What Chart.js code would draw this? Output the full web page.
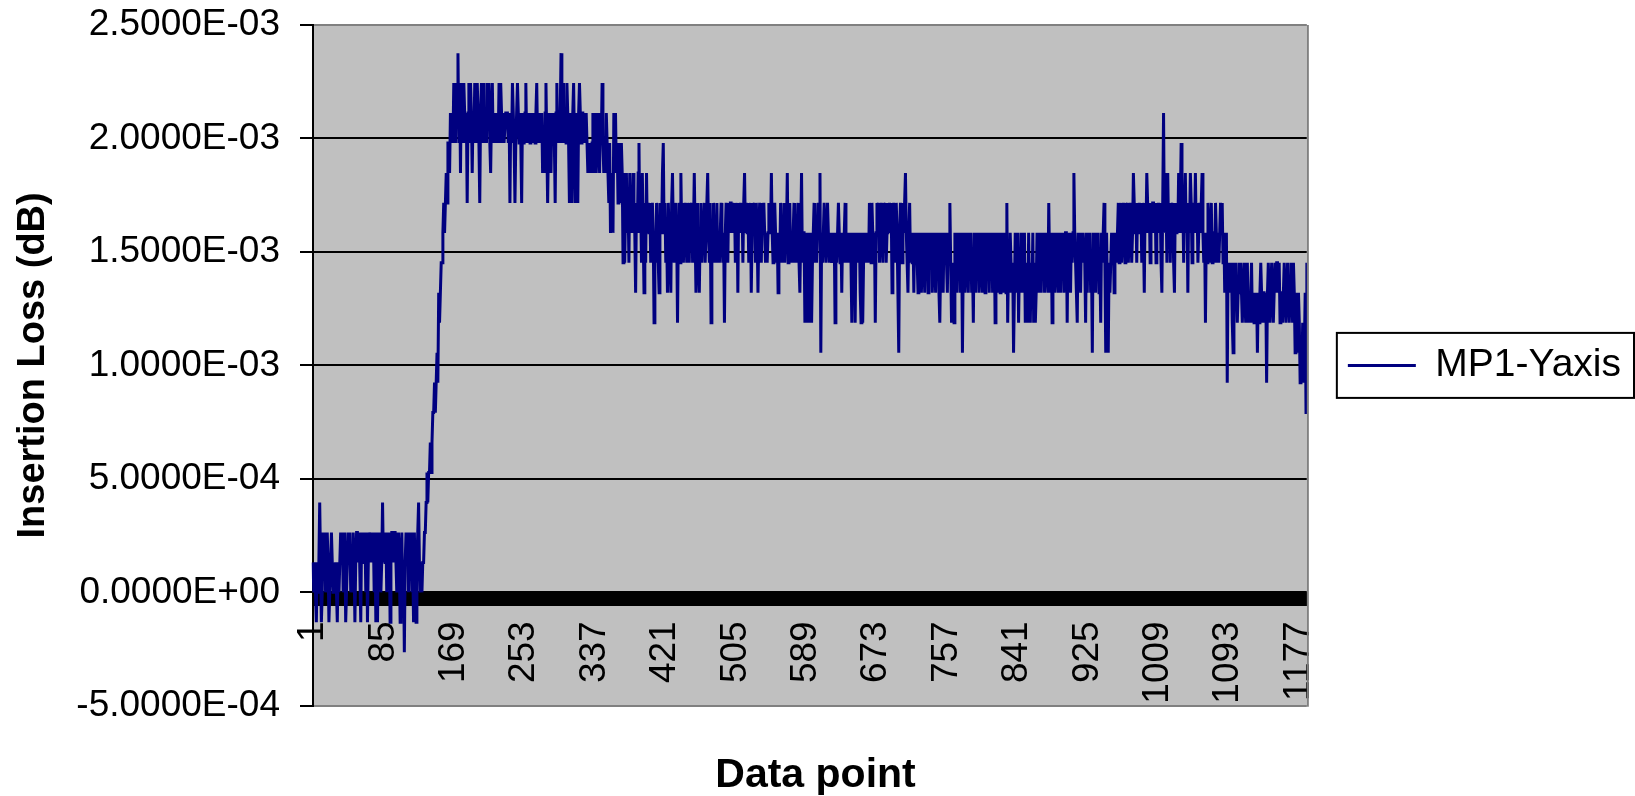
<!DOCTYPE html>
<html>
<head>
<meta charset="utf-8">
<title>MP1-Yaxis insertion loss</title>
<script src="https://cdn.jsdelivr.net/npm/chart.js@4.4.0/dist/chart.umd.min.js"></script>
<style>
  body { margin: 0; background: #fff; }
  canvas { display: block; }
</style>
</head>
<body>
<canvas id="myChart" width="1635" height="796"></canvas>
<script>
// DATA
// readings are stored in counts of the meter step (1 count = 1.32E-4 dB)
const LEVEL_DB = 1.32e-4;

// points 1-132, before the move
const lowNoise = [
  1,0,1,0,-1,1,0,1,3,1,
  -1,0,2,1,2,0,1,2,1,-1,
  0,1,2,1,0,1,0,1,0,-1,
  1,0,1,2,1,2,0,1,2,-1,
  0,1,2,1,2,0,1,0,2,1,
  -1,1,2,2,1,2,2,-1,2,1,
  2,1,2,0,2,-1,1,2,2,1,
  2,1,2,0,2,-1,2,-1,2,1,
  2,0,1,3,1,2,1,2,0,2,
  1,2,-1,1,2,2,1,2,2,1,
  0,1,2,1,-1,1,2,0,1,-2,
  1,2,1,2,0,2,1,2,0,1,
  -1,2,0,-1,1,2,3,1,0,1,0,1
];

// points 133-162
const riseSteps = [
  1,2,2,3,4,3,4,4,5,4,
  5,6,6,7,6,7,8,7,10,9,
  10,11,11,12,13,12,13,14,13,15
];

// points 163-346
const plateau = [
  15,14,16,15,16,15,17,16,15,17,
  16,18,15,17,14,17,16,15,17,16,
  15,16,13,16,17,15,17,16,14,16,
  15,17,16,15,17,16,15,13,16,17,
  15,17,16,15,16,15,17,16,17,15,
  14,16,17,15,16,15,16,15,16,15,
  17,15,17,16,15,16,15,15,16,16,
  16,15,16,13,16,15,17,16,15,13,
  15,16,17,16,15,16,15,13,16,15,
  15,16,17,15,16,15,16,15,16,15,
  16,15,16,15,16,17,15,16,15,16,
  15,16,14,15,14,16,17,15,13,15,
  16,15,14,16,15,16,15,13,16,17,
  15,16,15,16,18,15,16,17,15,16,
  15,17,16,15,13,16,15,13,16,17,
  15,13,16,15,13,16,17,16,15,16,
  16,15,16,15,16,15,14,15,14,15,
  14,15,16,14,15,16,14,15,16,15,
  14,16,15,17
];

// points 347-401
const decline = [
  15,14,15,14,16,15,14,13,15,12,
  13,14,12,16,15,16,14,15,13,14,
  15,13,15,14,11,14,11,13,14,12,
  13,11,14,12,13,12,14,13,12,10,
  13,12,14,15,12,13,11,14,12,10,
  13,11,14,12,13
];

// points 402-715
const middleA = [
  12,13,11,12,13,12,9,12,11,13,
  12,11,10,13,12,12,14,15,12,13,
  11,12,10,13,12,12,10,13,14,12,
  11,13,12,12,9,12,13,11,14,12,
  13,11,12,13,12,11,13,12,11,13,
  12,13,11,12,14,12,10,12,13,11,
  10,12,13,11,12,12,13,11,12,13,
  14,12,11,13,9,12,11,13,12,11,
  12,13,11,12,11,12,13,12,11,12,
  9,12,13,12,11,13,12,13,13,12,
  13,12,13,11,12,13,10,13,12,13,
  12,13,11,13,14,12,13,12,13,11,
  12,13,10,12,13,12,13,11,13,12,
  10,12,13,12,11,13,12,13,12,11,
  12,11,12,13,12,12,14,12,11,12,
  13,12,11,12,10,12,11,13,12,11,
  12,13,11,12,12,14,11,12,13,11,
  12,11,12,13,11,12,11,12,13,11,
  10,12,14,11,12,12,9,11,12,9,
  12,11,9,12,9,11,12,13,11,12,
  11,12,13,12,14,8,12,11,12,13,
  12,11,12,13,12,11,12,12,11,12,
  11,12,9,12,11,12,13,12,11,12,
  10,12,11,12,13,11,12,11,12,11,
  12,11,9,12,11,12,9,12,11,12,
  11,12,10,9,12,9,11,12,11,12,
  11,12,11,13,12,11,13,12,11,12,
  9,12,13,12,13,11,12,13,12,11,
  13,12,13,11,12,13,12,13,12,13,
  10,12,13,12,11,13,12,12,8,12,
  13,12,11,13,12,13,14,12,11,10,
  12,13,11,12
];

// points 716-955
const middleB = [
  11,12,10,12,11,12,11,10,12,11,
  12,10,11,12,11,10,12,11,12,10,
  11,12,11,12,10,11,12,11,10,12,
  11,12,10,9,11,12,11,10,12,11,
  12,11,10,12,11,13,11,9,10,11,
  9,12,11,10,12,11,12,10,11,12,
  8,11,12,10,11,12,11,10,12,11,
  12,10,11,9,12,11,10,12,11,12,
  10,11,12,11,10,12,11,10,12,11,
  12,11,10,12,11,12,10,11,12,9,
  11,12,10,11,12,10,11,12,11,10,
  12,11,10,13,9,11,10,12,11,10,
  11,8,10,12,11,10,12,9,11,10,
  12,11,10,11,12,9,10,11,9,12,
  10,9,11,10,12,9,11,9,10,12,
  11,10,12,11,10,12,11,12,10,11,
  12,11,10,13,11,10,12,9,11,12,
  10,11,12,11,10,12,11,10,12,11,
  12,10,11,12,12,9,12,11,12,10,
  12,11,12,14,12,11,10,9,12,11,
  12,10,12,11,12,12,11,9,12,10,
  12,11,12,10,11,8,12,11,12,10,
  12,11,12,10,11,9,12,11,12,13,
  11,8,12,10,8,11,10,11,12,11
];

// points 956-1086
const bump = [
  12,10,11,12,11,12,13,11,12,13,
  11,12,13,12,11,13,12,13,11,12,
  13,12,11,12,14,13,12,13,11,13,
  12,13,12,13,11,13,12,10,13,12,
  14,13,12,13,11,13,12,13,13,12,
  13,11,13,12,13,12,13,11,10,13,
  16,12,14,13,11,14,12,13,11,13,
  12,13,11,10,13,12,13,12,14,12,
  13,15,12,13,11,13,14,12,13,10,
  13,12,14,13,11,12,13,12,14,12,
  13,11,12,13,12,13,14,12,11,12,
  9,12,11,13,12,11,12,13,11,12,
  12,11,13,12,11,12,11,12,13,12,
  13
];

// points 1087-1187
const tail = [
  11,12,10,11,12,7,11,10,11,10,
  11,9,8,11,10,11,10,9,10,11,
  10,11,10,9,10,11,10,9,10,11,
  9,10,9,10,11,9,10,9,10,9,
  10,8,10,9,10,11,10,9,10,10,
  9,10,7,10,11,10,9,10,11,10,
  9,10,11,10,11,11,10,11,9,10,
  10,9,10,11,10,9,10,11,10,9,
  10,11,10,9,11,10,8,10,8,9,
  10,9,7,8,7,9,7,8,10,6,
  11
];

const seriesName = 'MP1-Yaxis';
const xTickLabels = [1, 85, 169, 253, 337, 421, 505, 589, 673, 757, 841, 925, 1009, 1093, 1177];
const yTicks = [-5e-4, 0, 5e-4, 1e-3, 1.5e-3, 2e-3, 2.5e-3];

const counts = [].concat(lowNoise, riseSteps, plateau, decline, middleA, middleB, bump, tail);
const lossDb = counts.map(function(c) { return c * LEVEL_DB; });
const pointLabels = lossDb.map(function(v, i) { return String(i + 1); });

const FONT = "'Liberation Sans', Arial, sans-serif";
const NAVY = '#000080';

// Excel style 2.5000E-03
function sciLabel(v) {
  if (Math.abs(v) < 1e-12) v = 0;
  const parts = v.toExponential(4).split('e');
  const exp = parseInt(parts[1], 10);
  return parts[0] + 'E' + (exp < 0 ? '-' : '+') + String(Math.abs(exp)).padStart(2, '0');
}

// gray plot area, right edge and legend frame
const excelFrame = {
  id: 'excelFrame',
  beforeDraw: function(chart) {
    const ctx = chart.ctx;
    const a = chart.chartArea;
    ctx.save();
    ctx.fillStyle = '#c0c0c0';
    ctx.fillRect(a.left, a.top, a.right - a.left, a.bottom - a.top);
    ctx.restore();
  },
  afterDraw: function(chart) {
    const ctx = chart.ctx;
    const a = chart.chartArea;
    ctx.save();
    ctx.strokeStyle = '#808080';
    ctx.lineWidth = 2;
    ctx.beginPath();
    ctx.moveTo(a.right + 1, a.top);
    ctx.lineTo(a.right + 1, a.bottom + 1);
    ctx.stroke();
    const hb = chart.legend.legendHitBoxes[0];
    if (hb) {
      ctx.strokeStyle = '#000';
      ctx.lineWidth = 2;
      ctx.strokeRect(hb.left - 11, hb.top - 13, hb.width + 24, 65);
    }
    ctx.restore();
  }
};

var ctx = document.getElementById('myChart').getContext('2d');
var myChart = new Chart(ctx, {
  type: 'line',
  data: {
    labels: pointLabels,
    datasets: [{
      label: seriesName,
      data: lossDb,
      borderColor: NAVY,
      backgroundColor: NAVY,
      borderWidth: 3,
      pointRadius: 0,
      tension: 0,
      fill: false
    }]
  },
  options: {
    responsive: false,
    animation: false,
    devicePixelRatio: 1,
    layout: { padding: { top: 25, right: 4, bottom: -4, left: 0 } },
    scales: {
      x: {
        type: 'category',
        position: { y: 0 },
        grid: {
          drawOnChartArea: false,
          drawTicks: true,
          tickLength: 13,
          color: '#000',
          lineWidth: 1
        },
        border: { display: true, color: '#000', width: 1 },
        ticks: {
          autoSkip: false,
          minRotation: 90,
          maxRotation: 90,
          padding: 16,
          color: '#000',
          font: { family: FONT, size: 37 },
          callback: function(value, index) {
            const n = index + 1;
            return xTickLabels.indexOf(n) >= 0 ? String(n) : '';
          }
        }
      },
      y: {
        min: yTicks[0],
        max: yTicks[yTicks.length - 1],
        afterFit: function(scale) {
          scale.width = 313;
          scale.paddingTop = 0;
          scale.paddingBottom = 0;
        },
        grid: {
          color: function(c) {
            return (c.index === 0 || c.index === yTicks.length - 1) ? '#808080' : '#000';
          },
          lineWidth: 2,
          tickLength: 13,
          tickColor: '#000',
          tickWidth: 2
        },
        border: { display: true, color: '#000', width: 2 },
        ticks: {
          stepSize: yTicks[1] - yTicks[0],
          padding: 20,
          color: '#000',
          font: { family: FONT, size: 37 },
          callback: function(value) { return sciLabel(value); }
        },
        title: {
          display: true,
          text: 'Insertion Loss (dB)',
          color: '#000',
          font: { family: FONT, size: 38, weight: 'bold' },
          padding: { top: 11, bottom: 0 }
        }
      }
    },
    plugins: {
      tooltip: { enabled: false },
      title: {
        display: true,
        position: 'bottom',
        text: 'Data point',
        color: '#000',
        font: { family: FONT, size: 41, weight: 'bold' },
        padding: { top: 45, bottom: 0 }
      },
      legend: {
        position: 'right',
        fullSize: false,
        labels: {
          boxWidth: 68,
          boxHeight: 3,
          padding: 41,
          color: '#000',
          font: { family: FONT, size: 39 },
          generateLabels: function(chart) {
            const items = Chart.defaults.plugins.legend.labels.generateLabels(chart);
            items.forEach(function(it) {
              it.fillStyle = NAVY;
              it.lineWidth = 0;
            });
            return items;
          }
        }
      }
    }
  },
  plugins: [excelFrame]
});
</script>
</body>
</html>
